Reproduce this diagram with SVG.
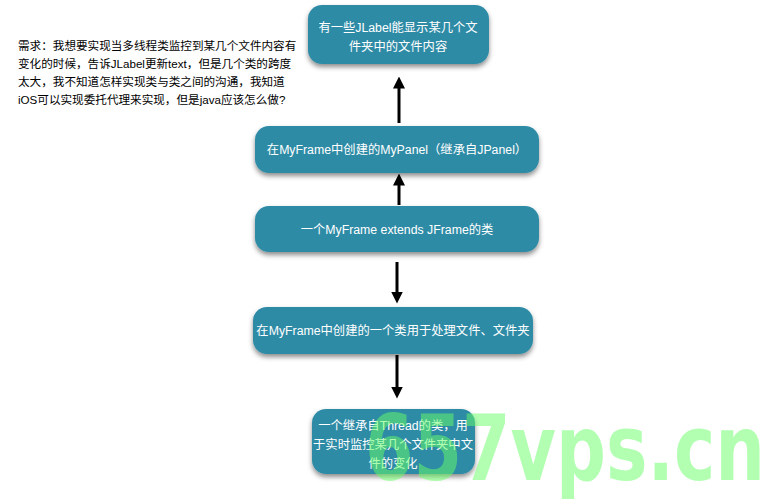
<svg xmlns="http://www.w3.org/2000/svg" width="784" height="500" viewBox="0 0 784 500">
<defs>
<filter id="sh" x="-10%" y="-20%" width="120%" height="150%"><feDropShadow dx="0" dy="3" stdDeviation="2.5" flood-color="#000" flood-opacity="0.45"/></filter>
<marker id="ah" markerWidth="4" markerHeight="4" refX="0.5" refY="2" orient="auto" markerUnits="strokeWidth" viewBox="0 0 4 4"><path d="M0,0 L4,2 L0,4 z" fill="#000"/></marker>
</defs>
<style>
.n{fill:#2f8ba6;filter:url(#sh)}
.t{fill:#fff;font-family:"Liberation Sans","Noto Sans CJK SC",sans-serif;font-size:12.3px;text-anchor:middle}
.c{stroke:#000;stroke-width:3;fill:none;marker-end:url(#ah)}
.q{fill:#000;font-family:"Liberation Sans","Noto Sans CJK SC",sans-serif;font-size:11.6px}
</style>
<rect width="784" height="500" fill="#fff"/>
<text class="q"><tspan x="18" y="50">需求：我想要实现当多线程类监控到某几个文件内容有</tspan><tspan x="18" y="68">变化的时候，告诉JLabel更新text，但是几个类的跨度</tspan><tspan x="18" y="86">太大，我不知道怎样实现类与类之间的沟通，我知道</tspan><tspan x="18" y="104">iOS可以实现委托代理来实现，但是java应该怎么做?</tspan></text>
<g id="connectors">
<line class="c" x1="399" y1="123" x2="399" y2="87"/>
<line class="c" x1="399" y1="205" x2="399" y2="184"/>
<line class="c" x1="397" y1="262" x2="397" y2="293"/>
<line class="c" x1="397" y1="355" x2="397" y2="388"/>
</g>
<g id="n1"><rect class="n" x="308" y="5" width="181" height="59" rx="14"/><text class="t"><tspan x="398" y="32">有一些JLabel能显示某几个文</tspan><tspan x="398" y="51">件夹中的文件内容</tspan></text></g>
<g id="n2"><rect class="n" x="255" y="126" width="284" height="47" rx="14"/><text class="t" x="397" y="154">在MyFrame中创建的MyPanel（继承自JPanel）</text></g>
<g id="n3"><rect class="n" x="255" y="206" width="284" height="46" rx="14"/><text class="t" x="397" y="234">一个MyFrame extends JFrame的类</text></g>
<g id="n4"><rect class="n" x="253" y="307" width="280" height="47" rx="14"/><text class="t" x="393" y="335">在MyFrame中创建的一个类用于处理文件、文件夹</text></g>
<g id="n5"><rect class="n" x="312" y="409" width="163" height="65" rx="14"/><text class="t"><tspan x="393" y="430">一个继承自Thread的类，用</tspan><tspan x="393" y="449">于实时监控某几个文件夹中文</tspan><tspan x="393" y="468">件的变化</tspan></text></g>
<text x="365" y="480" font-family="DejaVu Sans" font-weight="bold" font-size="90" fill="#66ff66" fill-opacity="0.5" textLength="400" lengthAdjust="spacingAndGlyphs">657vps.cn</text>
</svg>
